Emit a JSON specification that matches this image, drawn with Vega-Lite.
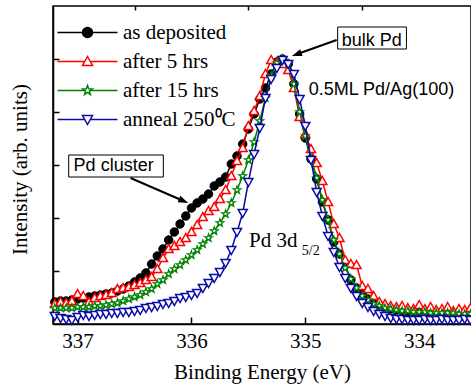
{
"$schema":"https://vega.github.io/schema/vega-lite/v6.json",
"width":418,"height":318,
"autosize":{"type":"none"},
"padding":{"left":53,"top":6,"right":0,"bottom":64},
"background":"white",
"config":{"font":"Liberation Serif","view":{"stroke":"black","strokeWidth":1.5},
 "axis":{"domainColor":"black","tickColor":"black","labelColor":"black","titleColor":"black","labelFont":"Liberation Serif","titleFont":"Liberation Serif","grid":false,"domainWidth":1.5,"tickWidth":1.5,"titleFontWeight":"normal"},
 "legend":{"labelFont":"Liberation Serif"}},
"resolve":{"axis":{"x":"independent"}},
"datasets":{"spec":[
{"e":337.2,"dep":22,"h5":20,"h15":16,"ann":8},
{"e":337.15,"dep":23,"h5":22,"h15":16,"ann":6},
{"e":337.1,"dep":23,"h5":21,"h15":16,"ann":5},
{"e":337.05,"dep":24,"h5":23,"h15":16,"ann":4},
{"e":337.0,"dep":25,"h5":30,"h15":17,"ann":7},
{"e":336.95,"dep":26,"h5":28,"h15":17,"ann":9},
{"e":336.9,"dep":27,"h5":22,"h15":17,"ann":8},
{"e":336.85,"dep":28,"h5":26,"h15":18,"ann":9},
{"e":336.8,"dep":29,"h5":28,"h15":18,"ann":10},
{"e":336.75,"dep":30,"h5":29,"h15":19,"ann":10},
{"e":336.7,"dep":31,"h5":31,"h15":20,"ann":11},
{"e":336.65,"dep":33,"h5":35,"h15":21,"ann":11},
{"e":336.6,"dep":35,"h5":36,"h15":23,"ann":12},
{"e":336.55,"dep":38,"h5":37,"h15":25,"ann":12},
{"e":336.5,"dep":42,"h5":39,"h15":27,"ann":13},
{"e":336.45,"dep":46,"h5":41,"h15":29,"ann":14},
{"e":336.4,"dep":51,"h5":44,"h15":32,"ann":16},
{"e":336.35,"dep":60,"h5":47,"h15":35,"ann":17},
{"e":336.3,"dep":68,"h5":55,"h15":40,"ann":18},
{"e":336.25,"dep":75,"h5":66,"h15":44,"ann":20},
{"e":336.2,"dep":84,"h5":75,"h15":50,"ann":21},
{"e":336.15,"dep":92,"h5":78,"h15":55,"ann":23},
{"e":336.1,"dep":100,"h5":82,"h15":59,"ann":26},
{"e":336.05,"dep":108,"h5":86,"h15":64,"ann":27},
{"e":336.0,"dep":116,"h5":92,"h15":69,"ann":29},
{"e":335.95,"dep":121,"h5":99,"h15":74,"ann":31},
{"e":335.9,"dep":125,"h5":107,"h15":80,"ann":36},
{"e":335.85,"dep":130,"h5":113,"h15":86,"ann":41},
{"e":335.8,"dep":138,"h5":117,"h15":93,"ann":46},
{"e":335.75,"dep":142,"h5":125,"h15":101,"ann":52},
{"e":335.7,"dep":147,"h5":134,"h15":110,"ann":61},
{"e":335.65,"dep":160,"h5":148,"h15":121,"ann":74},
{"e":335.6,"dep":168,"h5":163,"h15":134,"ann":92},
{"e":335.55,"dep":180,"h5":176,"h15":148,"ann":111},
{"e":335.5,"dep":195,"h5":198,"h15":164,"ann":142},
{"e":335.45,"dep":210,"h5":213,"h15":182,"ann":170},
{"e":335.4,"dep":225,"h5":228,"h15":203,"ann":196},
{"e":335.35,"dep":236,"h5":250,"h15":226,"ann":226},
{"e":335.3,"dep":250,"h5":264,"h15":248,"ann":245},
{"e":335.25,"dep":262,"h5":262,"h15":261,"ann":256},
{"e":335.2,"dep":265,"h5":260,"h15":265,"ann":264},
{"e":335.15,"dep":260,"h5":254,"h15":260,"ann":260},
{"e":335.1,"dep":240,"h5":236,"h15":240,"ann":250},
{"e":335.05,"dep":210,"h5":207,"h15":212,"ann":225},
{"e":335.0,"dep":186,"h5":190,"h15":188,"ann":198},
{"e":334.95,"dep":165,"h5":175,"h15":166,"ann":164},
{"e":334.9,"dep":145,"h5":161,"h15":146,"ann":132},
{"e":334.85,"dep":122,"h5":143,"h15":124,"ann":108},
{"e":334.8,"dep":104,"h5":122,"h15":104,"ann":88},
{"e":334.75,"dep":82,"h5":100,"h15":84,"ann":72},
{"e":334.7,"dep":70,"h5":86,"h15":70,"ann":57},
{"e":334.65,"dep":59,"h5":64,"h15":56,"ann":46},
{"e":334.6,"dep":44,"h5":60,"h15":45,"ann":36},
{"e":334.55,"dep":36,"h5":59,"h15":36,"ann":28},
{"e":334.5,"dep":30,"h5":38,"h15":28,"ann":21},
{"e":334.45,"dep":25,"h5":35,"h15":24,"ann":17},
{"e":334.4,"dep":21,"h5":28,"h15":20,"ann":13},
{"e":334.35,"dep":19,"h5":22,"h15":18,"ann":10},
{"e":334.3,"dep":17,"h5":20,"h15":16,"ann":8},
{"e":334.25,"dep":15,"h5":18,"h15":15,"ann":6},
{"e":334.2,"dep":14,"h5":17,"h15":14,"ann":5},
{"e":334.15,"dep":13,"h5":18,"h15":13,"ann":5},
{"e":334.1,"dep":12,"h5":16,"h15":13,"ann":4},
{"e":334.05,"dep":12,"h5":15,"h15":12,"ann":4},
{"e":334.0,"dep":11,"h5":19,"h15":12,"ann":4},
{"e":333.95,"dep":11,"h5":15,"h15":12,"ann":5},
{"e":333.9,"dep":10,"h5":17,"h15":11,"ann":4},
{"e":333.85,"dep":10,"h5":14,"h15":11,"ann":4},
{"e":333.8,"dep":10,"h5":15,"h15":11,"ann":5},
{"e":333.75,"dep":10,"h5":17,"h15":11,"ann":4},
{"e":333.7,"dep":10,"h5":13,"h15":11,"ann":4},
{"e":333.65,"dep":10,"h5":15,"h15":10,"ann":4},
{"e":333.6,"dep":10,"h5":14,"h15":10,"ann":5},
{"e":333.55,"dep":10,"h5":16,"h15":10,"ann":4}
]},
"layer":[
{"data":{"name":"spec"},
 "mark":{"type":"line","strokeWidth":1.5,"point":{"shape":"circle","size":72,"filled":true,"fill":"black","strokeWidth":1}},
 "encoding":{
  "x":{"field":"e","type":"quantitative","scale":{"domain":[333.545,337.216],"reverse":true,"nice":false,"zero":false},
   "axis":{"title":"Binding Energy (eV)","values":[334,335,336,337],"format":"d","tickSize":-7,"labelFont":"Liberation Serif","titleFont":"Liberation Serif","labelFontSize":21,"titleFontSize":21,"labelPadding":13,"titlePadding":10,"labelFlush":false,"labelOverlap":false}},
  "y":{"field":"dep","type":"quantitative","scale":{"domain":[0,318],"nice":false,"zero":false},
   "axis":{"title":"Intensity (arb. units)","values":[53,106,159,212,265],"labels":false,"tickSize":-6,"titleFont":"Liberation Serif","titleFontSize":21,"titlePadding":22,"titleY":163}},
  "stroke":{"datum":"as deposited","type":"nominal",
   "scale":{"domain":["as deposited","after 5 hrs","after 15 hrs","anneal 250⁰C"],"range":["#000000","#ff0000","#008000","#0a0aa8"]},
   "legend":{"orient":"none","legendX":24,"legendY":16,"title":null,"padding":0,"labelFont":"Liberation Serif","labelFontSize":21,"labelColor":"black","symbolSize":100,"symbolStrokeWidth":1.5,"labelOffset":25,"rowPadding":7,
    "encode":{"labels":{"update":{"font":{"value":"Liberation Serif"}}},"symbols":{"update":{
     "shape":{"signal":"datum.value == 'as deposited' ? 'M-6,0H6M-1,0A1,1,0,1,1,1,0A1,1,0,1,1,-1,0Z' : datum.value == 'after 5 hrs' ? 'M-6,0H-0.56M0.56,0H6M0,-1L1,0.8L-1,0.8Z' : datum.value == 'after 15 hrs' ? 'M-6,0H-0.45M0.45,0H6M0,-1L0.235,-0.324L0.951,-0.309L0.38,0.124L0.588,0.809L0,0.4L-0.588,0.809L-0.38,0.124L-0.951,-0.309L-0.235,-0.324Z' : 'M-6,0H-0.56M0.56,0H6M0,1L1,-0.8L-1,-0.8Z'"},
     "fill":{"signal":"datum.value == 'as deposited' ? 'black' : 'white'"},
     "opacity":{"value":1}}}}}}}},
{"data":{"name":"spec"},
 "mark":{"type":"line","strokeWidth":1.5,"point":{"shape":"M0,-1L1,0.8L-1,0.8Z","size":81,"filled":true,"fill":"white","strokeWidth":1.5}},
 "encoding":{
  "x":{"field":"e","type":"quantitative","axis":{"values":[334.5,335.5,336.5],"labels":false,"tickSize":-4,"domain":false,"title":null}},
  "y":{"field":"h5","type":"quantitative"},
  "stroke":{"datum":"after 5 hrs","type":"nominal"}}},
{"data":{"name":"spec"},
 "mark":{"type":"line","strokeWidth":1.5,"point":{"shape":"M0,-1L0.235,-0.324L0.951,-0.309L0.38,0.124L0.588,0.809L0,0.4L-0.588,0.809L-0.38,0.124L-0.951,-0.309L-0.235,-0.324Z","size":64,"filled":true,"fill":"white","strokeWidth":1.3}},
 "encoding":{
  "x":{"field":"e","type":"quantitative","axis":null},
  "y":{"field":"h15","type":"quantitative"},
  "stroke":{"datum":"after 15 hrs","type":"nominal"}}},
{"data":{"name":"spec"},
 "mark":{"type":"line","strokeWidth":1.5,"point":{"shape":"M0,1L1,-0.8L-1,-0.8Z","size":81,"filled":true,"fill":"white","strokeWidth":1.5}},
 "encoding":{
  "x":{"field":"e","type":"quantitative","axis":null},
  "y":{"field":"ann","type":"quantitative"},
  "stroke":{"datum":"anneal 250⁰C","type":"nominal"}}},
{"data":{"values":[{"x1":334.716,"x2":334.112,"y1":297,"y2":275},{"x1":337.078,"x2":336.247,"y1":169,"y2":147}]},
 "mark":{"type":"rect","fill":"white","stroke":"black","strokeWidth":1},
 "encoding":{"x":{"field":"x1","type":"quantitative","axis":null},"x2":{"field":"x2"},"y":{"field":"y1","type":"quantitative"},"y2":{"field":"y2"}}},
{"data":{"values":[{"x":334.68,"y":278,"t":"bulk Pd"},{"x":337.035,"y":153,"t":"Pd cluster"},{"x":334.97,"y":229,"t":"0.5ML Pd/Ag(100)"}]},
 "mark":{"type":"text","font":"Liberation Sans","fontSize":18,"align":"left","baseline":"alphabetic","color":"black"},
 "encoding":{"x":{"field":"x","type":"quantitative","axis":null},"y":{"field":"y","type":"quantitative"},"text":{"field":"t"}}},
{"data":{"values":[{"x":335.495,"y":77,"t":"Pd 3d"}]},
 "mark":{"type":"text","font":"Liberation Serif","fontSize":21,"align":"left","baseline":"alphabetic","color":"black"},
 "encoding":{"x":{"field":"x","type":"quantitative","axis":null},"y":{"field":"y","type":"quantitative"},"text":{"field":"t"}}},
{"data":{"values":[{"x":335.031,"y":69,"t":"5/2"}]},
 "mark":{"type":"text","font":"Liberation Serif","fontSize":14,"align":"left","baseline":"alphabetic","color":"black"},
 "encoding":{"x":{"field":"x","type":"quantitative","axis":null},"y":{"field":"y","type":"quantitative"},"text":{"field":"t"}}},
{"data":{"values":[{"x1":334.725,"y1":284,"x2":335.076,"y2":269.7},{"x1":336.535,"y1":146,"x2":336.069,"y2":123}]},
 "mark":{"type":"rule","strokeWidth":2,"color":"black"},
 "encoding":{"x":{"field":"x1","type":"quantitative","axis":null},"x2":{"field":"x2"},"y":{"field":"y1","type":"quantitative"},"y2":{"field":"y2"}}},
{"data":{"values":[{"x":335.076,"y":269.7}]},
 "mark":{"type":"point","shape":"M0,-1L0.7,1L-0.7,1Z","size":100,"angle":250,"filled":true,"color":"black","opacity":1},
 "encoding":{"x":{"field":"x","type":"quantitative","axis":null},"y":{"field":"y","type":"quantitative"}}},
{"data":{"values":[{"x":336.069,"y":123}]},
 "mark":{"type":"point","shape":"M0,-1L0.7,1L-0.7,1Z","size":100,"angle":113,"filled":true,"color":"black","opacity":1},
 "encoding":{"x":{"field":"x","type":"quantitative","axis":null},"y":{"field":"y","type":"quantitative"}}}
]
}
